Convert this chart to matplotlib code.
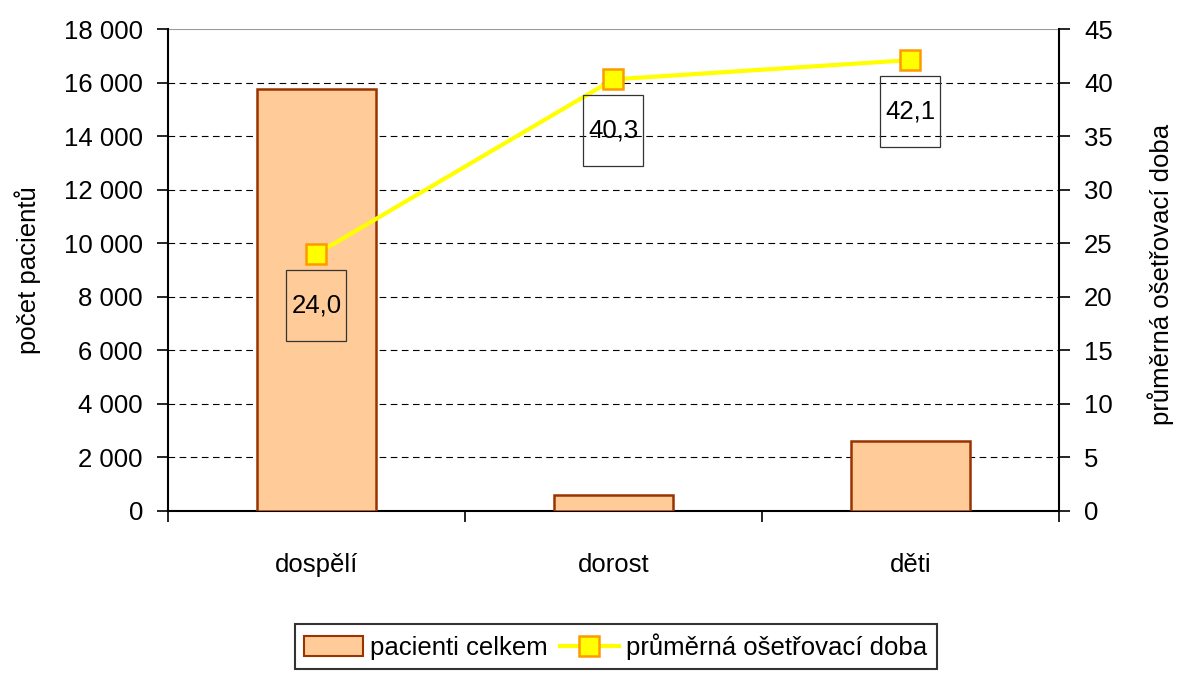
import matplotlib
matplotlib.use("Agg")
import matplotlib.pyplot as plt
import matplotlib.transforms as mtransforms
from matplotlib.patches import Rectangle
from matplotlib.lines import Line2D
from matplotlib import font_manager

categories = ["dospělí", "dorost", "děti"]
patients = [15760, 600, 2610]
avg_duration = [24.0, 40.3, 42.1]
duration_labels = ["24,0", "40,3", "42,1"]
left_ticks = [0, 2000, 4000, 6000, 8000, 10000, 12000, 14000, 16000, 18000]
left_ticklabels = ["0", "2 000", "4 000", "6 000", "8 000", "10 000", "12 000", "14 000", "16 000", "18 000"]
right_ticks = [0, 5, 10, 15, 20, 25, 30, 35, 40, 45]

names = {f.name for f in font_manager.fontManager.ttflist}
fam = "Liberation Sans Narrow" if "Liberation Sans Narrow" in names else "Liberation Sans"
plt.rcParams['font.family'] = [fam, 'DejaVu Sans']
FS = 18.5

fig = plt.figure(figsize=(11.77, 6.75), dpi=100)
ax = fig.add_axes([0.1427, 0.2430, 0.8997 - 0.1427, 0.957 - 0.2430])
ax2 = ax.twinx()

x = list(range(len(categories)))
ax.bar(x, patients, width=0.4, color="#FFCC99", edgecolor="#993300", linewidth=1.8, zorder=3)
ax.set_xlim(-0.5, 2.5)
ax.set_ylim(0, 18000)
ax.set_yticks(left_ticks)
ax.set_yticklabels(left_ticklabels, fontsize=FS)
for t in left_ticks[1:-1]:
    ax.axhline(t, color="black", linestyle=(0, (6, 4)), linewidth=0.8, zorder=1)
ax.axhline(18000, color="#999999", linewidth=1.5, zorder=1)

ax.set_xticks([-0.5, 0.5, 1.5, 2.5])
ax.set_xticklabels([])
ax.set_xticks(x, minor=True)
ax.set_xticklabels(categories, minor=True, fontsize=FS)
ax.tick_params(axis="x", which="major", direction="out", length=8, width=1.2)
ax.tick_params(axis="x", which="minor", length=0, pad=30)
ax.tick_params(axis="y", direction="out", length=8, width=1.2, pad=10)
for s in ["top"]:
    ax.spines[s].set_visible(False)
    ax2.spines[s].set_visible(False)
ax.spines["left"].set_linewidth(1.5)
ax.spines["bottom"].set_linewidth(1.5)
ax2.spines["right"].set_linewidth(1.5)
ax.spines["right"].set_visible(False)
ax2.spines["left"].set_visible(False)
ax2.spines["bottom"].set_visible(False)

ax2.plot(x, avg_duration, color="#FFFF00", linewidth=3, marker="s", markersize=14,
         markerfacecolor="#FFFF00", markeredgecolor="#FF9900", markeredgewidth=1.8, zorder=5)
ax2.set_ylim(0, 45)
ax2.set_yticks(right_ticks)
ax2.set_yticklabels([str(t) for t in right_ticks], fontsize=FS)
ax2.tick_params(axis="y", direction="out", length=8, width=1.2, pad=10)

ax.set_ylabel("počet pacientů", fontsize=FS)
ax.yaxis.set_label_coords(-0.143, 0.5)
ax2.set_ylabel("průměrná ošetřovací doba", fontsize=FS)
ax2.yaxis.set_label_coords(1.099, 0.49)

for xi, yi, lab in zip(x, avg_duration, duration_labels):
    tr = mtransforms.Affine2D().scale(1 / 72) + fig.dpi_scale_trans + \
        mtransforms.ScaledTranslation(xi, yi, ax2.transData)
    rect = Rectangle((-21.6, -62.5), 43.2, 51.1, transform=tr, fill=False,
                     edgecolor="#333333", linewidth=0.9, zorder=6)
    ax2.add_patch(rect)
    ax2.text(0, -37, lab, transform=tr, ha="center", va="center", fontsize=FS, zorder=7)

handles = [Rectangle((0, 0), 1, 1, facecolor="#FFCC99", edgecolor="#993300", linewidth=1.5),
           Line2D([0], [0], color="#FFFF00", linewidth=3, marker="s", markersize=14,
                  markerfacecolor="#FFFF00", markeredgecolor="#FF9900", markeredgewidth=1.8)]
leg = fig.legend(handles, ["pacienti celkem", "průměrná ošetřovací doba"], loc="center",
                 bbox_to_anchor=(0.523, 0.042), ncol=2, fontsize=FS, frameon=True,
                 fancybox=False, edgecolor="black", handlelength=2.3, handleheight=0.8,
                 handletextpad=0.3, columnspacing=0.45, borderpad=0.35, borderaxespad=0)
leg.get_frame().set_linewidth(1.5)

fig.savefig("out.png", dpi=100)
